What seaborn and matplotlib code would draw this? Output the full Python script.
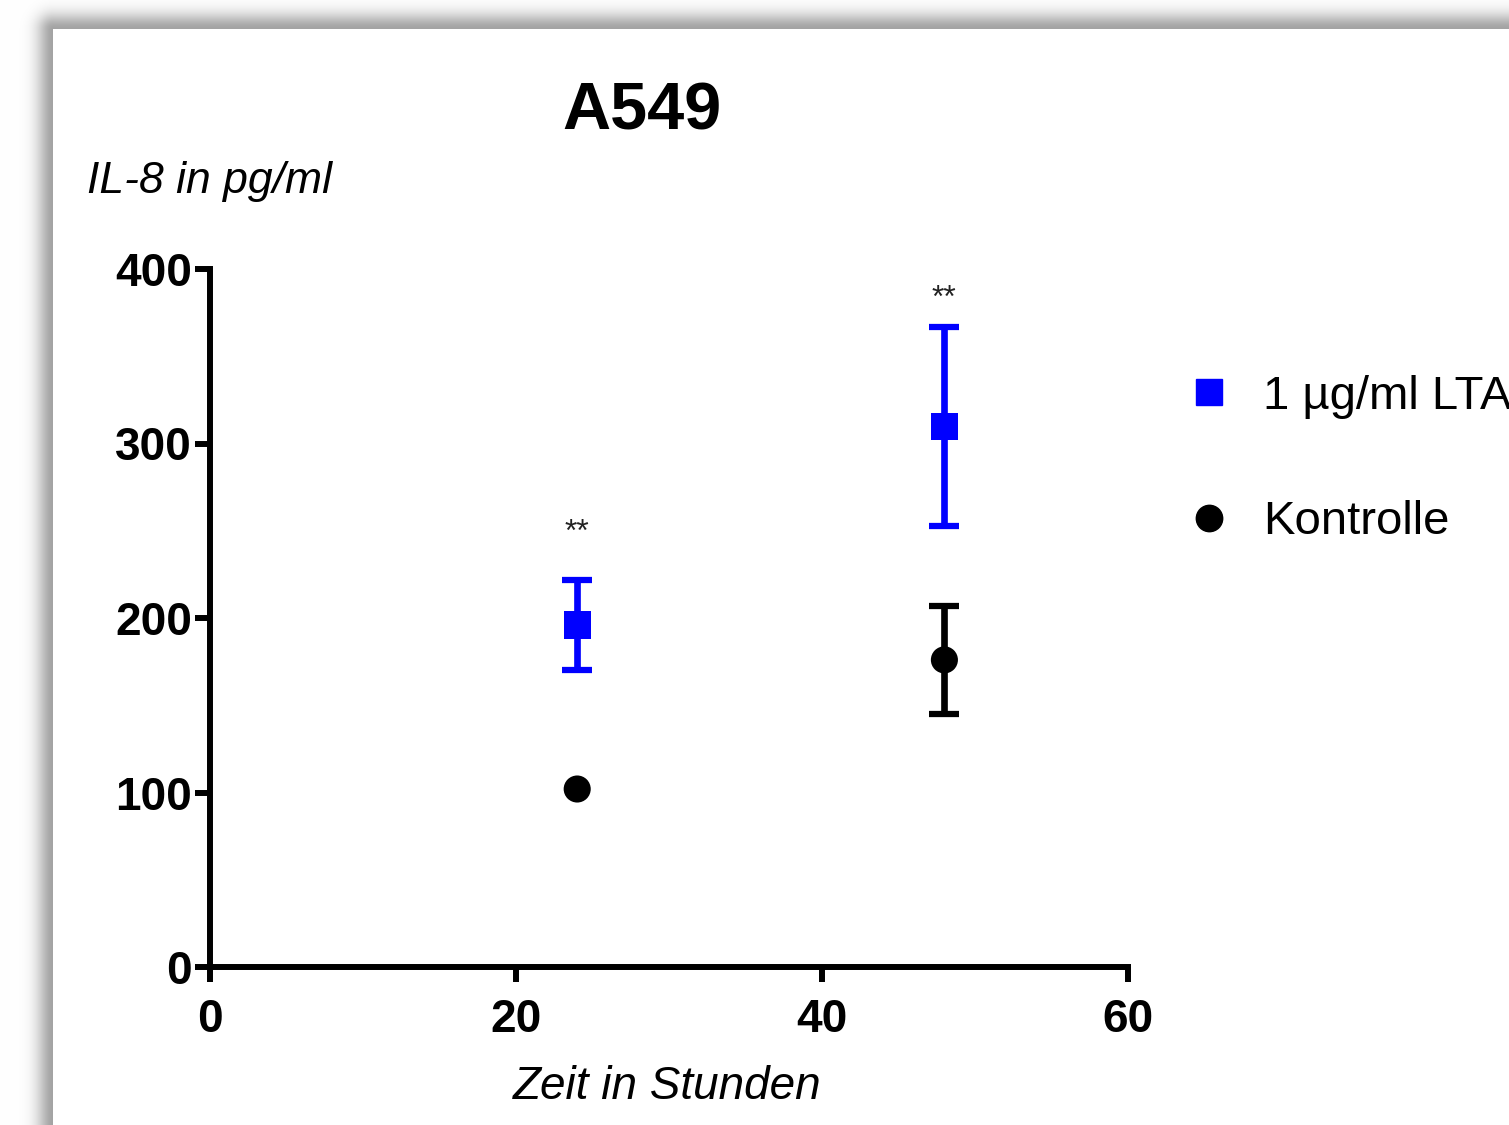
import numpy as np
import pandas as pd
import matplotlib
matplotlib.use("Agg")
import matplotlib.pyplot as plt
from matplotlib.lines import Line2D
import seaborn as sns

# IL-8 release of A549 cells (mean +/- SEM)
groups = ["1 µg/ml LTA", "Kontrolle"]
hours = [24, 48]
lta_mean = [196, 310]
lta_sem = [26, 57]
ctrl_mean = [102, 176]
ctrl_sem = [3, 31]
stars = ["**", "**"]
star_y = [249, 383]

colors = {"1 µg/ml LTA": "#0000ff", "Kontrolle": "#000000"}
markers = {"1 µg/ml LTA": "s", "Kontrolle": "o"}

df = pd.DataFrame({
    "Zeit": hours * 2,
    "IL8": lta_mean + ctrl_mean,
    "SEM": lta_sem + ctrl_sem,
    "Gruppe": [groups[0]] * 2 + [groups[1]] * 2,
})

sns.set_style("white")
plt.rcParams["font.family"] = ["Liberation Sans", "DejaVu Sans"]
plt.rcParams["text.color"] = "black"
plt.rcParams["xtick.labelcolor"] = "black"
plt.rcParams["ytick.labelcolor"] = "black"

W, H, DPI = 1509, 1125, 100
fig = plt.figure(figsize=(W / DPI, H / DPI), dpi=DPI)

# drop shadow around the white card (top and left edge)
bg = fig.add_axes([0, 0, 1, 1], zorder=-10)
yy, xx = np.mgrid[0:H, 0:W]
dist = np.hypot(np.clip(53 - xx, 0, None), np.clip(29 - yy, 0, None))
shade = 1 - 0.36 * np.exp(-(dist / 16.0) ** 2)
shade[(xx >= 53) & (yy >= 29)] = 1.0
bg.imshow(np.dstack([shade] * 3), aspect="auto", interpolation="bilinear")
bg.axis("off")

ax = fig.add_axes([210 / W, 1 - 967 / H, 918 / W, 698 / H])
ax.patch.set_alpha(0)

# like Prism: error bars shorter than the symbol are not drawn
for g in groups:
    sub = df[(df["Gruppe"] == g) & (df["SEM"] > 7)]
    ax.errorbar(sub["Zeit"], sub["IL8"], yerr=sub["SEM"], fmt="none",
                ecolor=colors[g], elinewidth=4.8, capsize=11, capthick=4.5,
                zorder=2)

sns.scatterplot(data=df, x="Zeit", y="IL8", hue="Gruppe", style="Gruppe",
                hue_order=groups, style_order=groups, palette=colors,
                markers=markers, s=380, edgecolor="none", legend=False,
                ax=ax, zorder=3)

for h, sy, s in zip(hours, star_y, stars):
    ax.text(h, sy, s, ha="center", va="center", fontsize=23,
            color="#222222")

ax.set_xlim(0, 60)
ax.set_ylim(0, 400)
ax.set_xticks([0, 20, 40, 60])
ax.set_yticks([0, 100, 200, 300, 400])
ax.set_xlabel("")
ax.set_ylabel("")
for side in ["top", "right"]:
    ax.spines[side].set_visible(False)
for side in ["left", "bottom"]:
    ax.spines[side].set_linewidth(4.3)
    ax.spines[side].set_color("black")
    ax.spines[side].set_capstyle("projecting")
ax.tick_params(axis="both", length=11, width=4.3, color="black",
               direction="out", labelsize=33)
ax.tick_params(axis="y", pad=2)
ax.tick_params(axis="x", pad=11)
ax.tick_params(left=True, bottom=True)
for lab in ax.get_xticklabels() + ax.get_yticklabels():
    lab.set_fontweight("bold")
for coll in ax.collections:
    coll.set_clip_on(False)

fig.text(642 / W, 1 - 112 / H, "A549", ha="center", va="center",
         fontsize=48, fontweight="bold")
fig.text(87 / W, 1 - 181 / H, "IL-8 in pg/ml", ha="left", va="center",
         fontsize=32, style="italic")
fig.text(667 / W, 1 - 1087 / H, "Zeit in Stunden", ha="center", va="center",
         fontsize=33, style="italic")

handles = [Line2D([], [], ls="none", marker=markers[g], color=colors[g],
                  markersize=19) for g in groups]
fig.legend(handles, groups, loc="upper left",
           bbox_to_anchor=(1171 / W, 1 - 356 / H), frameon=False,
           fontsize=34, handlelength=0.8, handletextpad=0.75,
           labelspacing=1.72, borderaxespad=0)

fig.savefig("out.png", dpi=DPI)
